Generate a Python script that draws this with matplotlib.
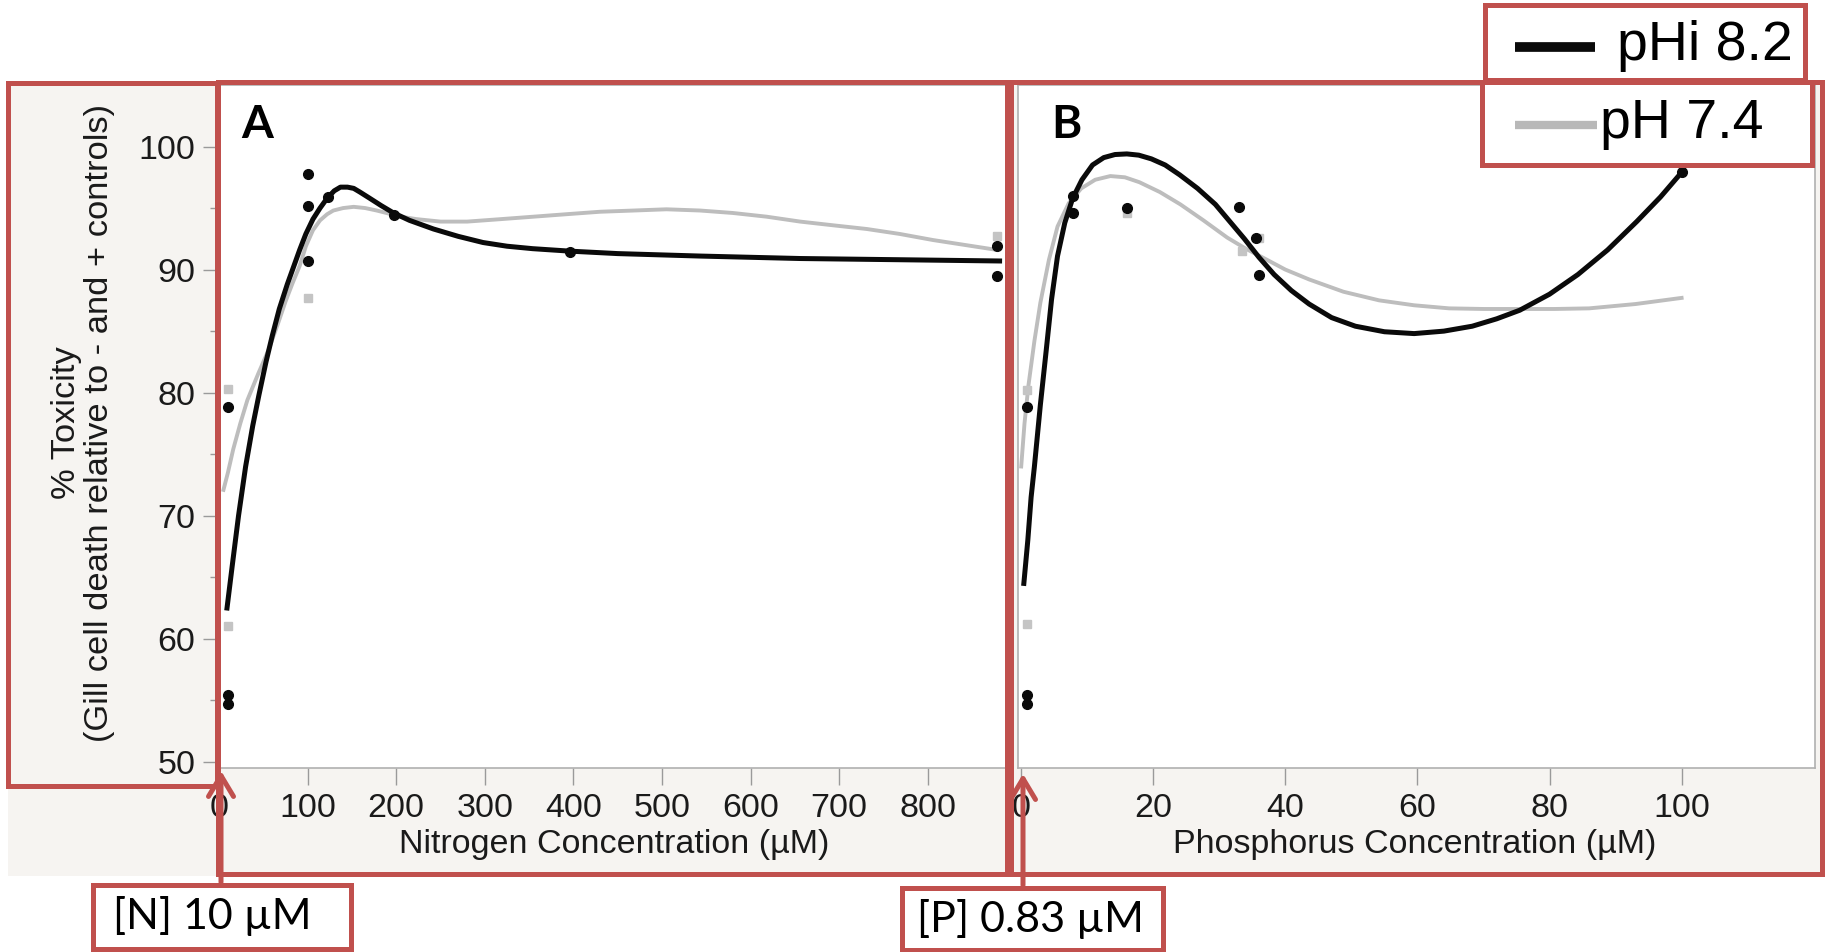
import matplotlib.pyplot as plt
from matplotlib.patches import Rectangle, FancyArrowPatch
from matplotlib.lines import Line2D

W, H = 1832, 952

# Panel A - nitrogen (curves)
n_line_hi = [9, 15, 22, 30, 38, 45, 53, 60, 68, 77, 85, 91, 98, 106, 114, 122, 130, 137, 145,
             152, 159, 170, 183, 197, 215, 242, 270, 298, 325, 354, 396, 450, 543, 656, 770, 881]
tox_line_hi_n = [62.5, 66.0, 70.0, 74.0, 77.3, 79.8, 82.5, 84.6, 86.8, 88.8, 90.4, 91.6, 92.9, 94.1,
                 95.0, 95.8, 96.4, 96.7, 96.7, 96.6, 96.3, 95.8, 95.2, 94.6, 94.0, 93.3, 92.7, 92.2,
                 91.9, 91.7, 91.5, 91.3, 91.1, 90.9, 90.8, 90.7]
n_line_lo = [5, 10, 16, 24, 32, 44, 56, 66, 75, 83, 91, 98, 106, 114, 122, 129, 140, 152, 165, 178,
             189, 205, 223, 250, 280, 318, 355, 392, 430, 468, 505, 543, 580, 618, 656, 693, 731,
             768, 806, 842, 878]
tox_line_lo_n = [72.1, 73.5, 75.4, 77.5, 79.4, 81.5, 83.5, 85.5, 87.4, 88.9, 90.3, 91.9, 93.2, 94.0,
                 94.5, 94.8, 95.0, 95.1, 95.0, 94.8, 94.6, 94.3, 94.1, 93.9, 93.9, 94.1, 94.3, 94.5,
                 94.7, 94.8, 94.9, 94.8, 94.6, 94.3, 93.9, 93.6, 93.3, 92.9, 92.4, 92.0, 91.6]
n_pts_hi = [10, 10, 10, 100, 100, 100, 123, 197, 396, 878, 878]
tox_pts_hi_n = [78.8, 55.4, 54.7, 97.8, 95.2, 90.7, 95.9, 94.4, 91.4, 91.9, 89.5]
n_pts_lo = [10, 10, 100, 878]
tox_pts_lo_n = [80.3, 61.0, 87.7, 92.7]

# Panel B - phosphorus
p_line_hi = [0.4, 1.0, 1.5, 2.0, 2.9, 3.8, 4.6, 5.5, 6.6, 7.8, 9.2, 10.8, 12.5, 14.2, 16.0, 17.8,
             19.7, 21.8, 24.0, 26.7, 29.4, 31.6, 33.8, 36.0, 38.3, 40.9, 43.6, 47.0, 50.6, 55.0,
             59.5, 64.0, 68.3, 72.0, 75.5, 80.0, 84.3, 88.8, 93.2, 96.8, 100]
tox_line_hi_p = [64.5, 68.0, 71.5, 74.0, 79.0, 83.5, 87.6, 91.1, 93.8, 95.8, 97.3, 98.5, 99.1, 99.35,
                 99.4, 99.3, 99.0, 98.5, 97.7, 96.6, 95.3, 93.9, 92.5, 91.0, 89.6, 88.3, 87.2, 86.1,
                 85.4, 84.95, 84.8, 85.0, 85.4, 86.0, 86.7, 88.0, 89.6, 91.6, 93.9, 95.9, 97.9]
p_line_lo = [0, 0.5, 1.1, 2.0, 2.9, 4.2, 5.5, 7.2, 9.1, 11.2, 13.5, 15.7, 17.9, 21.0, 24.1, 27.6,
             31.2, 34.0, 36.5, 40.0, 43.6, 48.8, 54.2, 59.5, 64.8, 70.0, 75.5, 80.8, 86.0, 93.0, 100]
tox_line_lo_p = [74.0, 77.5, 80.6, 84.2, 87.3, 90.8, 93.5, 95.4, 96.6, 97.3, 97.6, 97.5, 97.1, 96.3,
                 95.3, 94.0, 92.6, 91.7, 91.0, 90.0, 89.2, 88.2, 87.5, 87.1, 86.85, 86.8, 86.8,
                 86.8, 86.85, 87.2, 87.7]
p_pts_hi = [0.83, 0.83, 0.83, 7.8, 7.8, 16, 33, 35.6, 36, 100]
tox_pts_hi_p = [78.8, 55.4, 54.7, 96.0, 94.6, 95.0, 95.1, 92.6, 89.6, 97.9]
p_pts_lo = [0.83, 0.83, 16, 33.5, 36]
tox_pts_lo_p = [80.2, 61.2, 94.6, 91.5, 92.6]

n_ticks = [0, 100, 200, 300, 400, 500, 600, 700, 800]
p_ticks = [0, 20, 40, 60, 80, 100]
y_ticks = [50, 60, 70, 80, 90, 100]

RED = '#c0504d'
BLACK = '#0a0a0a'
GREY = '#bdbdbd'
FONT = 'Liberation Sans'


def fx(x):
    return x / W


def fy(y):
    return 1 - y / H


def box(x0, y0, x1, y1, fill=None):
    if fill is not None:
        fig.add_artist(Rectangle((fx(x0), fy(y1)), (x1 - x0) / W, (y1 - y0) / H,
                                 transform=fig.transFigure, facecolor=fill,
                                 edgecolor='none', zorder=9))
    fig.add_artist(Rectangle((fx(x0), fy(y1)), (x1 - x0) / W, (y1 - y0) / H,
                             transform=fig.transFigure, fill=False,
                             edgecolor=RED, lw=3.6, zorder=10))


fig = plt.figure(figsize=(W / 100, H / 100), dpi=100, facecolor='white')

# background of the pasted figure
fig.add_artist(Rectangle((fx(8), fy(876)), (1824 - 8) / W, (876 - 82) / H,
                         transform=fig.transFigure, facecolor='#f6f4f1',
                         edgecolor='none', zorder=-5))

axA = fig.add_axes([fx(215.5), fy(768), (1008 - 215.5) / W, (768 - 85) / H])
axB = fig.add_axes([fx(1017.9), fy(768), (1815 - 1017.9) / W, (768 - 85) / H])

axA.plot(n_line_lo, tox_line_lo_n, color=GREY, lw=2.8, zorder=2)
axA.plot(n_line_hi, tox_line_hi_n, color=BLACK, lw=3.6, zorder=3)
axA.plot(n_pts_lo, tox_pts_lo_n, 's', color='#c4c4c4', ms=6, zorder=2)
axA.plot(n_pts_hi, tox_pts_hi_n, 'o', color=BLACK, ms=7, zorder=4)

axB.plot(p_line_lo, tox_line_lo_p, color=GREY, lw=2.8, zorder=2)
axB.plot(p_line_hi, tox_line_hi_p, color=BLACK, lw=3.6, zorder=3)
axB.plot(p_pts_lo, tox_pts_lo_p, 's', color='#c4c4c4', ms=6, zorder=2)
axB.plot(p_pts_hi, tox_pts_hi_p, 'o', color=BLACK, ms=7, zorder=4)

axA.set_xlim(-4, 890.5)
axB.set_xlim(-0.5, 120.2)
for ax in (axA, axB):
    ax.set_ylim(49.5, 105)
    ax.set_facecolor('white')
    for s in ax.spines.values():
        s.set_color('#b0b0b0')
        s.set_linewidth(1.2)
    ax.tick_params(axis='x', length=12, width=1, color='#9a9a9a', pad=6,
                   labelsize=24.5, labelcolor='#1a1a1a')

axA.set_xticks(n_ticks)
axA.set_xticklabels([str(v) for v in n_ticks], fontfamily=FONT)
axB.set_xticks(p_ticks)
axB.set_xticklabels([str(v) for v in p_ticks], fontfamily=FONT)

axA.set_yticks(y_ticks)
axA.set_yticklabels([str(v) for v in y_ticks], fontfamily=FONT)
axA.set_yticks([55, 65, 75, 85, 95], minor=True)
axA.tick_params(axis='y', which='major', length=9.5, width=1, color='#9a9a9a',
                pad=5, labelsize=24.5, labelcolor='#1a1a1a')
axA.tick_params(axis='y', which='minor', length=4.5, width=1, color='#9a9a9a')
axB.set_yticks([])

# axis titles
fig.text(fx(614), fy(844), 'Nitrogen Concentration (µM)', ha='center', va='center',
         fontsize=24.5, family=FONT, color='#1a1a1a')
fig.text(fx(1415), fy(844), 'Phosphorus Concentration (µM)', ha='center', va='center',
         fontsize=24.5, family=FONT, color='#1a1a1a')
fig.text(fx(83), fy(423), '% Toxicity\n(Gill cell death relative to - and + controls)',
         rotation=90, ha='center', va='center', multialignment='center',
         fontsize=24.8, family=FONT, color='#1a1a1a', linespacing=1.05)

# panel letters
fig.text(fx(257), fy(125), 'A', ha='center', va='center', fontsize=33,
         family='Lato', weight='bold', color='black', zorder=11)
fig.text(fx(1066), fy(125), 'B', ha='center', va='center', fontsize=33,
         family='Lato', weight='bold', color='black', zorder=11)

# red annotation boxes
box(8, 83, 217, 786)
box(218, 82, 1007, 874)
box(1011, 82, 1822, 874)
box(1485, 5, 1805, 80, fill='white')
box(1482, 82, 1812, 165, fill='white')
box(93, 885, 351, 949, fill='white')
box(902, 888, 1163, 950, fill='white')

# legend
fig.add_artist(Line2D([fx(1515), fx(1595)], [fy(47), fy(47)], transform=fig.transFigure,
                      color=BLACK, lw=7, solid_capstyle='butt', zorder=11))
fig.add_artist(Line2D([fx(1515), fx(1597)], [fy(125), fy(125)], transform=fig.transFigure,
                      color='#b8b8b8', lw=6, solid_capstyle='butt', zorder=11))
fig.text(fx(1617), fy(46), 'pHi 8.2', ha='left', va='center', fontsize=40,
         family=FONT, color='black', zorder=11)
fig.text(fx(1600), fy(124), 'pH 7.4', ha='left', va='center', fontsize=40,
         family=FONT, color='black', zorder=11)

# concentration notes with arrows
fig.text(fx(212), fy(916), '[N] 10 µM', ha='center', va='center', fontsize=31,
         family='Lato', color='black', zorder=11)
fig.text(fx(1030), fy(919), '[P] 0.83 µM', ha='center', va='center', fontsize=31,
         family='Lato', color='black', zorder=11)
for x0, y0, y1 in [(221, 885, 768), (1023, 888, 771)]:
    fig.add_artist(FancyArrowPatch((fx(x0), fy(y0)), (fx(x0), fy(y1)),
                                   transform=fig.transFigure,
                                   arrowstyle='->,head_length=0.75,head_width=0.45',
                                   mutation_scale=20, color=RED, lw=3.6, zorder=10))

fig.savefig('out.png', dpi=100, facecolor='white')
